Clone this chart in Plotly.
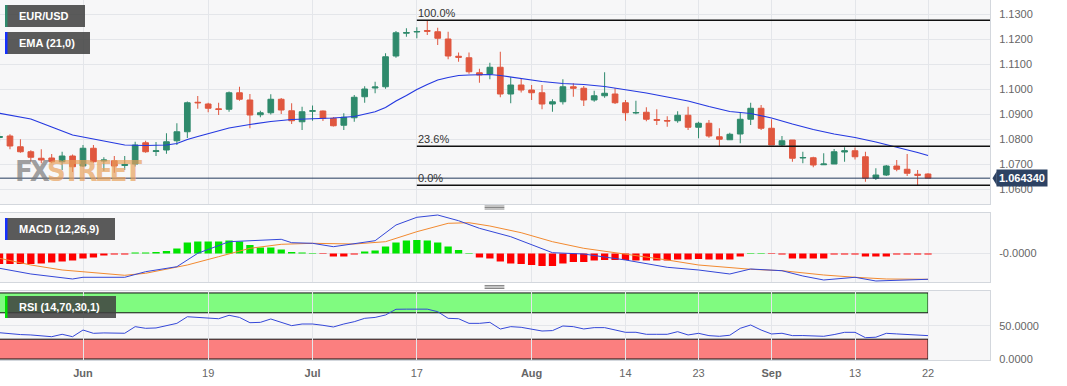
import pandas as pd
import plotly.graph_objects as go

# ---------------- data ----------------
dates = [d.strftime('%Y-%m-%d') for d in pd.bdate_range('2023-05-22', '2023-09-22')]

open_ = [1.0806, 1.0812, 1.0769, 1.0749, 1.0723, 1.0724, 1.0709, 1.0732, 1.0692, 1.0763,
         1.0712, 1.0713, 1.0694, 1.0700, 1.0785, 1.0750, 1.0756, 1.0793, 1.0829, 1.0947,
         1.0940, 1.0921, 1.0919, 1.0985, 1.0956, 1.0897, 1.0905, 1.0959, 1.0913, 1.0869,
         1.0911, 1.0912, 1.0883, 1.0855, 1.0885, 1.0969, 1.1004, 1.1009, 1.1132, 1.1223,
         1.1228, 1.1234, 1.1229, 1.1200, 1.1131, 1.1125, 1.1065, 1.1060, 1.1087, 1.0980,
         1.1016, 1.0996, 1.0985, 1.0940, 1.0949, 1.1009, 1.1003, 1.0956, 1.0973, 1.0980,
         1.0945, 1.0904, 1.0907, 1.0878, 1.0874, 1.0873, 1.0895, 1.0847, 1.0863, 1.0809,
         1.0797, 1.0820, 1.0879, 1.0923, 1.0843, 1.0776, 1.0796, 1.0724, 1.0725, 1.0697,
         1.0700, 1.0748, 1.0753, 1.0729, 1.0643, 1.0656, 1.0692, 1.0679, 1.0659, 1.0660]
high = [1.0828, 1.0819, 1.0799, 1.0755, 1.0759, 1.0740, 1.0749, 1.0738, 1.0776, 1.0776,
        1.0727, 1.0732, 1.0732, 1.0789, 1.0793, 1.0788, 1.0823, 1.0863, 1.0950, 1.0972,
        1.0945, 1.0945, 1.0990, 1.1009, 1.0980, 1.0913, 1.0979, 1.0964, 1.0943, 1.0929,
        1.0934, 1.0914, 1.0888, 1.0903, 1.0976, 1.1011, 1.1029, 1.1143, 1.1232, 1.1243,
        1.1247, 1.1276, 1.1245, 1.1229, 1.1146, 1.1146, 1.1081, 1.1105, 1.1149, 1.1047,
        1.1043, 1.1016, 1.1016, 1.0959, 1.1039, 1.1023, 1.1012, 1.0993, 1.1067, 1.1003,
        1.0956, 1.0953, 1.0927, 1.0919, 1.0891, 1.0911, 1.0929, 1.0869, 1.0876, 1.0843,
        1.0825, 1.0905, 1.0945, 1.0936, 1.0879, 1.0812, 1.0796, 1.0749, 1.0729, 1.0743,
        1.0760, 1.0767, 1.0766, 1.0749, 1.0683, 1.0696, 1.0716, 1.0740, 1.0676, 1.0663]
low = [1.0790, 1.0759, 1.0745, 1.0709, 1.0703, 1.0703, 1.0676, 1.0668, 1.0688, 1.0705,
       1.0673, 1.0665, 1.0676, 1.0690, 1.0745, 1.0732, 1.0741, 1.0776, 1.0804, 1.0921,
       1.0907, 1.0896, 1.0909, 1.0953, 1.0843, 1.0887, 1.0898, 1.0900, 1.0860, 1.0836,
       1.0873, 1.0872, 1.0850, 1.0836, 1.0869, 1.0945, 1.0983, 1.1001, 1.1125, 1.1209,
       1.1203, 1.1216, 1.1176, 1.1119, 1.1109, 1.1061, 1.1025, 1.1039, 1.0967, 1.0943,
       1.0986, 1.0956, 1.0919, 1.0909, 1.0938, 1.0969, 1.0932, 1.0949, 1.0965, 1.0940,
       1.0873, 1.0899, 1.0871, 1.0856, 1.0849, 1.0865, 1.0836, 1.0803, 1.0805, 1.0769,
       1.0796, 1.0783, 1.0856, 1.0836, 1.0776, 1.0770, 1.0709, 1.0703, 1.0687, 1.0697,
       1.0700, 1.0709, 1.0718, 1.0629, 1.0636, 1.0652, 1.0671, 1.0652, 1.0616, 1.0643]
close = [1.0810, 1.0772, 1.0749, 1.0727, 1.0716, 1.0709, 1.0732, 1.0689, 1.0763, 1.0709,
         1.0716, 1.0692, 1.0698, 1.0776, 1.0749, 1.0753, 1.0789, 1.0829, 1.0945, 1.0945,
         1.0923, 1.0918, 1.0985, 1.0959, 1.0896, 1.0905, 1.0959, 1.0916, 1.0873, 1.0909,
         1.0913, 1.0883, 1.0853, 1.0887, 1.0967, 1.1000, 1.1008, 1.1129, 1.1225, 1.1226,
         1.1230, 1.1231, 1.1203, 1.1132, 1.1127, 1.1069, 1.1056, 1.1087, 1.0980, 1.1016,
         1.0996, 1.0985, 1.0940, 1.0949, 1.1009, 1.1003, 1.0956, 1.0973, 1.0983, 1.0945,
         1.0905, 1.0906, 1.0879, 1.0875, 1.0872, 1.0895, 1.0847, 1.0863, 1.0812, 1.0799,
         1.0819, 1.0879, 1.0923, 1.0843, 1.0776, 1.0793, 1.0723, 1.0726, 1.0696, 1.0700,
         1.0749, 1.0753, 1.0729, 1.0643, 1.0656, 1.0692, 1.0679, 1.0663, 1.0655, 1.06434]

# EMA(21) (trading-day index -> value)
ema_idx = [0, 3, 5, 7, 10, 12, 14, 16, 17, 18, 19, 20, 22, 24, 26, 28, 30, 32, 34, 36,
           37, 38, 39, 40, 41, 42, 43, 44, 45, 46, 47, 48, 50, 52, 54, 56, 58, 60, 62, 64,
           66, 68, 70, 72, 74, 76, 78, 80, 82, 84, 86, 88, 89]
ema_val = [1.0903, 1.0880, 1.0848, 1.0816, 1.0792, 1.0776, 1.0774, 1.0776, 1.0782, 1.0798,
           1.0810, 1.0822, 1.0844, 1.0858, 1.0870, 1.0878, 1.0880, 1.0884, 1.0890, 1.0909,
           1.0926, 1.0952, 1.0974, 1.0998, 1.1018, 1.1036, 1.1046, 1.1054, 1.1056, 1.1058,
           1.1058, 1.1054, 1.1042, 1.1030, 1.1022, 1.1018, 1.1010, 1.0998, 1.0984, 1.0968,
           1.0952, 1.0930, 1.0910, 1.0902, 1.0884, 1.0860, 1.0838, 1.0820, 1.0806, 1.0788,
           1.0768, 1.0746, 1.0734]

# MACD(12,26,9)
macd_idx = [0, 3, 7, 8, 12, 14, 17, 19, 22, 26, 27, 28, 30, 32, 34, 36, 38, 40, 42, 44,
            46, 49, 53, 56, 60, 64, 67, 70, 72, 75, 77, 79, 82, 84, 89]
macd_val = [-0.00444, -0.00615, -0.00765, -0.00714, -0.00714, -0.00546, -0.00396, 0.00006,
            0.00354, 0.00405, 0.00426, 0.00324, 0.00306, 0.00204, 0.00285, 0.00384, 0.00855,
            0.01086, 0.01155, 0.00984, 0.00756, 0.00504, 0.00024, -0.00015, -0.00195,
            -0.00414, -0.00495, -0.00615, -0.00465, -0.00516, -0.00675, -0.00795, -0.00714,
            -0.00825, -0.00774]
signal_idx = [0, 3, 6, 10, 12, 14, 18, 21, 24, 27, 30, 34, 37, 40, 43, 45, 47, 50, 53, 56,
              60, 64, 67, 72, 75, 79, 82, 85, 89]
signal_val = [-0.00144, -0.00345, -0.00495, -0.00615, -0.00654, -0.00594, -0.00345, -0.00096,
              0.00156, 0.00276, 0.00306, 0.00285, 0.00354, 0.00654, 0.00906, 0.00924, 0.00825,
              0.00624, 0.00354, 0.00156, -0.00015, -0.00195, -0.00345, -0.00474, -0.00516,
              -0.00645, -0.00714, -0.00765, -0.00774]
hist_val = [-0.00315, -0.00315, -0.00315, -0.00315, -0.0030, -0.0027, -0.0024, -0.0021, -0.0015, -0.0012,
            -0.0006, -0.0003, -0.0003, 0.0003, 0.0003, 0.00045, 0.00075, 0.0015, 0.0033, 0.0036,
            0.0036, 0.0036, 0.0039, 0.0036, 0.00255, 0.0018, 0.0018, 0.0012, 0.00045, 0.0003,
            0.00015, -0.00015, -0.0009, -0.0009, -0.0003, 0.0006, 0.0009, 0.0021, 0.0033, 0.0039,
            0.00405, 0.0039, 0.0033, 0.0021, 0.00105, 0.00015, -0.0012, -0.0015, -0.0024, -0.0030,
            -0.00315, -0.00345, -0.00375, -0.00375, -0.0030, -0.00255, -0.00255, -0.0021, -0.00195, -0.00195,
            -0.00195, -0.0021, -0.0021, -0.0021, -0.0021, -0.0018, -0.0018, -0.00165, -0.0018, -0.0018,
            -0.0018, -0.0009, 0.00015, 0.00015, -0.00015, -0.0003, -0.0015, -0.0015, -0.0015, -0.0015,
            -0.0003, -0.0003, -0.0003, -0.0009, -0.0009, -0.0009, -0.0003, -0.0003, -0.0003, -0.0003]

# RSI(14)
rsi_val = [39.8, 38.0, 37.0, 36.4, 35.0, 33.8, 37.4, 33.8, 43.9, 38.9,
           39.5, 39.0, 39.0, 49.0, 46.5, 47.0, 50.0, 54.0, 64.0, 63.0,
           61.6, 61.0, 66.2, 63.0, 55.0, 55.5, 60.6, 55.0, 50.5, 53.0,
           53.0, 51.0, 48.5, 53.0, 56.5, 61.6, 63.0, 66.7, 75.3, 75.5,
           75.8, 75.5, 71.7, 61.6, 61.0, 54.0, 54.0, 55.5, 45.4, 49.0,
           48.0, 45.0, 42.4, 43.0, 50.0, 49.0, 45.5, 47.5, 47.5, 44.0,
           40.4, 40.5, 37.4, 37.4, 37.4, 41.4, 36.4, 38.9, 35.4, 34.4,
           36.0, 46.5, 51.5, 43.9, 37.9, 39.0, 35.4, 35.5, 35.0, 34.4,
           37.0, 40.4, 40.4, 32.3, 33.0, 38.9, 38.0, 37.0, 36.5, 35.4]

fib_start = '2023-07-17'
fib_high = 1.1275
fib_low = 1.0615
fib_ratios = [1.0, 0.236, 0.0]
fib_labels = ['100.0%', '23.6%', '0.0%']

last_price = 1.06434

tick_dates = ['2023-06-01', '2023-06-19', '2023-07-03', '2023-07-17', '2023-08-01',
              '2023-08-14', '2023-08-23', '2023-09-01', '2023-09-13', '2023-09-22']
tick_text = ['<b>Jun</b>', '19', '<b>Jul</b>', '17', '<b>Aug</b>', '14', '23', '<b>Sep</b>', '13', '22']
price_ticks = [1.06, 1.07, 1.08, 1.09, 1.10, 1.11, 1.12, 1.13]

# ---------------- styling ----------------
GREEN = '#2f8a6c'
RED = '#e0573f'
GRID = '#e4e6ea'
BORDER = '#d3d7dd'
BG = '#f7f7f8'
FONT = 'Liberation Sans, Arial, sans-serif'
X_RANGE = [0.044, 94.94]

fig = go.Figure()

fig.add_trace(go.Candlestick(
    x=dates, open=open_, high=high, low=low, close=close,
    increasing=dict(line=dict(color=GREEN, width=1), fillcolor=GREEN),
    decreasing=dict(line=dict(color=RED, width=1), fillcolor=RED),
    whiskerwidth=0, xaxis='x', yaxis='y', showlegend=False, hoverinfo='skip'))

fig.add_trace(go.Scatter(x=[dates[i] for i in ema_idx], y=ema_val, mode='lines',
                         line=dict(color='#2438e0', width=1.2), xaxis='x', yaxis='y',
                         showlegend=False, hoverinfo='skip'))

hist_colors = ['#00e400' if v > 0 else '#ff0000' for v in hist_val]
fig.add_trace(go.Bar(x=dates, y=hist_val, marker=dict(color=hist_colors, line=dict(width=0)),
                     xaxis='x2', yaxis='y2', showlegend=False, hoverinfo='skip'))
fig.add_trace(go.Scatter(x=[dates[i] for i in signal_idx], y=signal_val, mode='lines',
                         line=dict(color='#f28a30', width=1), xaxis='x2', yaxis='y2',
                         showlegend=False, hoverinfo='skip'))
fig.add_trace(go.Scatter(x=[dates[i] for i in macd_idx], y=macd_val, mode='lines',
                         line=dict(color='#3447d8', width=1), xaxis='x2', yaxis='y2',
                         showlegend=False, hoverinfo='skip'))

fig.add_trace(go.Scatter(x=dates, y=rsi_val, mode='lines', line=dict(color='#3447d8', width=1),
                         xaxis='x3', yaxis='y3', showlegend=False, hoverinfo='skip'))

xcommon = dict(type='category', categoryorder='array', categoryarray=dates, range=X_RANGE,
               tickmode='array', tickvals=tick_dates, ticktext=tick_text,
               showgrid=True, gridcolor=GRID, gridwidth=1, zeroline=False,
               showline=True, linecolor=BORDER, mirror=True, rangeslider=dict(visible=False),
               tickfont=dict(family=FONT, size=11, color='#666'))
ycommon = dict(side='right', showgrid=True, gridcolor=GRID, zeroline=False, showline=True,
               linecolor=BORDER, mirror=True, ticks='outside', ticklen=6,
               tickcolor='rgba(0,0,0,0)', tickfont=dict(family=FONT, size=11, color='#666'))

fig.update_layout(
    width=1067, height=386, margin=dict(l=0, r=77, t=0, b=26),
    paper_bgcolor='white', plot_bgcolor=BG, bargap=0.3, boxgap=0.22,
    showlegend=False,
    xaxis=dict(xcommon, anchor='y', showticklabels=False),
    xaxis2=dict(xcommon, anchor='y2', showticklabels=False, matches='x'),
    xaxis3=dict(xcommon, anchor='y3', showticklabels=True, matches='x',
                ticks='outside', ticklen=3, tickcolor='rgba(0,0,0,0)'),
    yaxis=dict(ycommon, domain=[0.4333, 1.0], range=[1.054, 1.1356], tickvals=price_ticks,
               tickformat='.4f', anchor='x'),
    yaxis2=dict(ycommon, domain=[0.2167, 0.4083], range=[-0.00855, 0.01215], tickvals=[0],
                ticktext=['-0.0000'], anchor='x2'),
    yaxis3=dict(ycommon, domain=[0.0, 0.1917], range=[-1.5, 103.0], tickvals=[0, 50],
                ticktext=['0.0000', '50.0000'], anchor='x3'),
)

shapes = []
annotations = []
x_start = dates.index(fib_start)
for r, lab in zip(fib_ratios, fib_labels):
    lvl = fib_low + r * (fib_high - fib_low)
    shapes.append(dict(type='line', xref='x', yref='y', x0=x_start, x1=X_RANGE[1],
                       y0=lvl, y1=lvl, line=dict(color='#111', width=1.5)))
    annotations.append(dict(xref='x', yref='y', x=x_start - 0.08, y=lvl, text=lab,
                            showarrow=False, xanchor='left', yanchor='bottom', yshift=-1,
                            font=dict(family=FONT, size=11, color='#333')))

# last price line and tag
shapes.append(dict(type='line', xref='paper', yref='y', x0=0, x1=1, y0=last_price, y1=last_price,
                   line=dict(color='#233a5c', width=1)))
annotations.append(dict(xref='paper', yref='y', x=1.0065, y=last_price, text='<b>%.6f</b>' % last_price,
                        showarrow=False, xanchor='left', yanchor='middle', bgcolor='#2d4263',
                        borderpad=2, font=dict(family=FONT, size=11, color='white')))
shapes.append(dict(type='path', xref='paper', yref='y',
                   path='M 1.0025,%f L 1.0068,%f L 1.0068,%f Z' % (last_price, last_price + 0.0028,
                                                                 last_price - 0.0028),
                   fillcolor='#2d4263', line=dict(width=0)))

# RSI bands
last_idx = len(dates) - 1
shapes.append(dict(type='rect', xref='x3', yref='y3', x0=X_RANGE[0] - 0.05, x1=last_idx, y0=70, y1=100,
                   fillcolor='#80fb80', line=dict(color='#111', width=1), layer='below'))
shapes.append(dict(type='rect', xref='x3', yref='y3', x0=X_RANGE[0] - 0.05, x1=last_idx, y0=0, y1=30,
                   fillcolor='#fb7f7f', line=dict(color='#111', width=1), layer='below'))

# panel handles
for yy in [0.4236, 0.2028]:
    for k in (-1, 0, 1):
        shapes.append(dict(type='line', xref='paper', yref='paper', x0=0.4895, x1=0.5095,
                           y0=yy + k * 0.0042, y1=yy + k * 0.0042,
                           line=dict(color='#888', width=1)))

# legend boxes
def tag(text, x0, x1, y0, y1, strip):
    shapes.append(dict(type='rect', xref='paper', yref='paper', x0=x0, x1=x1, y0=y0, y1=y1,
                       fillcolor='rgba(64,64,64,0.86)', line=dict(width=0)))
    shapes.append(dict(type='rect', xref='paper', yref='paper', x0=x0, x1=x0 + 0.0025, y0=y0, y1=y1,
                       fillcolor=strip, line=dict(width=0)))
    annotations.append(dict(xref='paper', yref='paper', x=x0 + 0.012, y=(y0 + y1) / 2, text=text,
                            showarrow=False, xanchor='left', yanchor='middle',
                            font=dict(family=FONT, size=11, color='white')))

H = 360.0
tag('<b>EUR/USD</b>', 5 / 990, 85 / 990, 1 - 27 / H, 1 - 5 / H, '#2f8a6c')
tag('<b>EMA (21,0)</b>', 5 / 990, 90 / 990, 1 - 54 / H, 1 - 32 / H, '#1530ff')
tag('<b>MACD (12,26,9)</b>', 5 / 990, 115 / 990, 1 - 240 / H, 1 - 218 / H, '#1530ff')
tag('<b>RSI (14,70,30,1)</b>', 5 / 990, 116 / 990, 1 - 318 / H, 1 - 296 / H, '#00e000')

# watermark
annotations.append(dict(xref='paper', yref='paper', x=13 / 990, y=1 - 171 / H,
                        text="<b><span style='letter-spacing:-3px'>"
                             "<span style='color:rgba(120,120,120,0.7)'>FX</span>"
                             "<span style='color:rgba(232,160,90,0.7)'>STREET</span></span></b>",
                        showarrow=False, xanchor='left', yanchor='middle',
                        font=dict(family='Liberation Sans Narrow, DejaVu Sans Condensed, Arial Narrow', size=29)))

fig.update_layout(shapes=shapes, annotations=annotations)
fig.write_html('out.html', config={'displayModeBar': False, 'staticPlot': True},
               post_script="document.body.style.margin='0';document.body.style.padding='0';"
                           "document.body.style.overflow='hidden';")
